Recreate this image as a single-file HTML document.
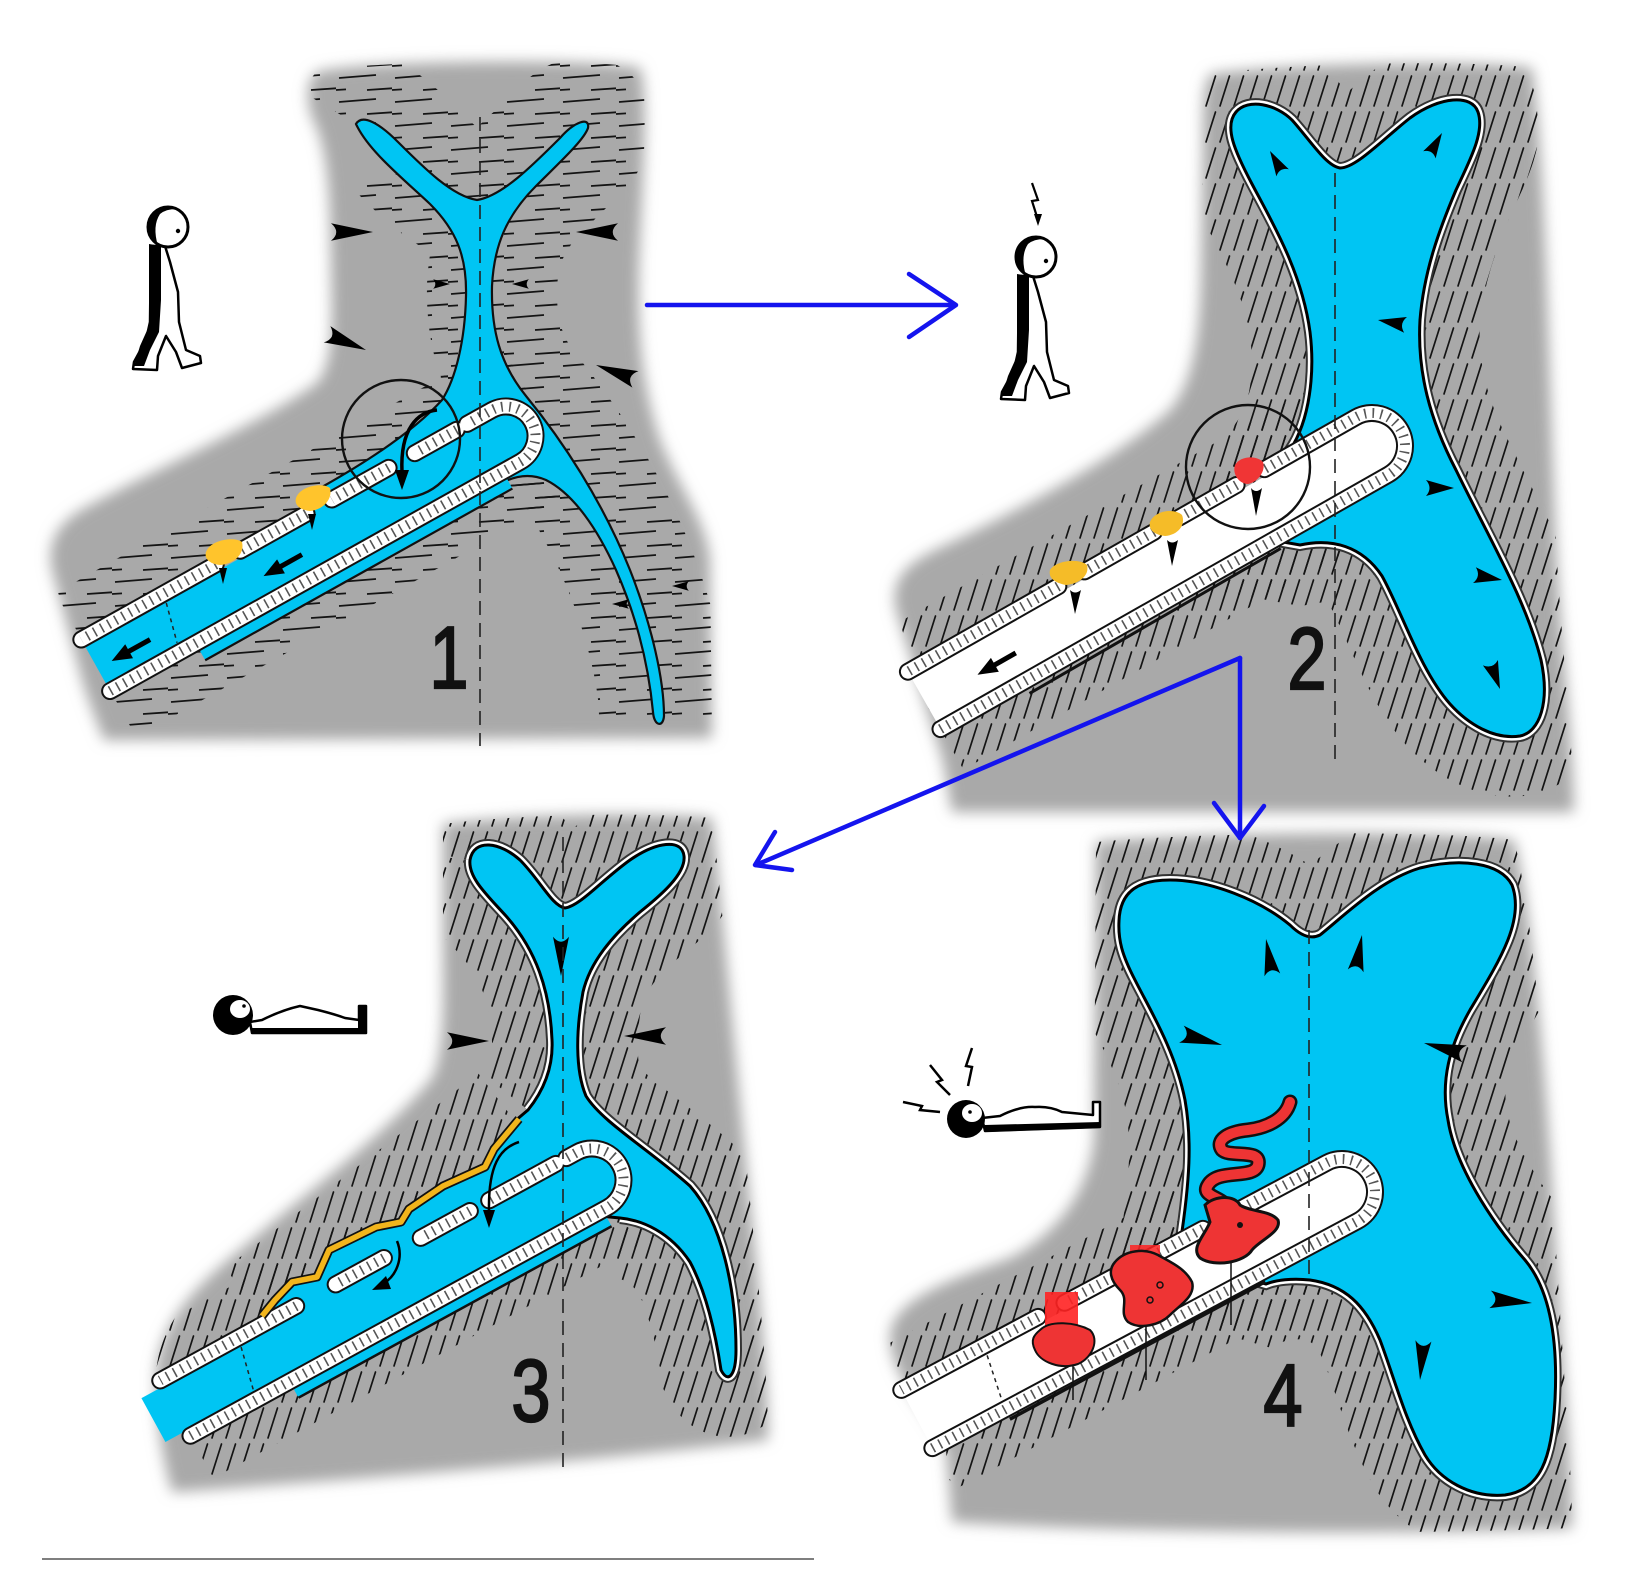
<!DOCTYPE html>
<html><head><meta charset="utf-8"><style>
html,body{margin:0;padding:0;background:#fff;}
svg{display:block;}
.wk{fill:none;stroke:#111;stroke-width:18;stroke-linecap:round;stroke-linejoin:round}
.ww{fill:none;stroke:#fff;stroke-width:14;stroke-linecap:round;stroke-linejoin:round}
.wh{fill:none;stroke:#555;stroke-width:10;stroke-dasharray:1.6 6.5}
.num{font-family:"Liberation Sans","DejaVu Sans",sans-serif;font-size:88px;fill:#111;stroke:#111;stroke-width:2.2;}
.dl{fill:none;stroke:#222;stroke-width:1.6;stroke-dasharray:14 8}
</style></head><body>
<svg width="1649" height="1592" viewBox="0 0 1649 1592" xmlns="http://www.w3.org/2000/svg">
<defs>
<filter id="bl" x="-8%" y="-8%" width="116%" height="116%"><feGaussianBlur stdDeviation="7"/></filter>
<pattern id="pd" width="14" height="36" patternUnits="userSpaceOnUse"><path d="M2,34 L11.5,4" stroke="#141414" stroke-width="1.7" stroke-linecap="round"/></pattern>
<pattern id="ph" width="56" height="24" patternUnits="userSpaceOnUse"><path d="M3,6 L40,3 M31,18 L56,16.3 M0,18 L10,17.4" stroke="#141414" stroke-width="1.8" fill="none"/></pattern>
<path id="w" d="M0,0 L-28,-8 Q-21,0 -28,8 Z" fill="#000"/>
<clipPath id="c1"><path d="M317,72 C360,60 600,58 640,68 C648,90 644,160 640,240 C636,320 640,380 660,440 C680,490 706,520 710,560 L712,738 L104,740 C96,720 88,700 82,680 L52,570 C46,540 60,520 90,505 C170,462 270,418 318,382 C334,360 332,320 331,270 C330,210 330,150 312,118 C306,100 306,80 317,72 Z"/></clipPath>
<clipPath id="c2"><path d="M1211,74 C1300,62 1480,60 1532,68 C1545,150 1548,350 1555,520 C1560,640 1572,720 1574,812 L952,812 C946,780 944,760 938,745 L896,610 C890,580 905,565 935,550 C1030,505 1120,455 1170,410 C1195,380 1200,330 1201,270 L1203,130 C1203,100 1204,82 1211,74 Z"/></clipPath>
<clipPath id="c3"><path d="M443,824 C520,814 650,812 712,818 C722,900 735,1060 752,1220 C760,1300 768,1380 768,1440 C620,1458 380,1478 172,1492 C160,1450 156,1410 156,1380 C156,1330 190,1290 240,1250 C310,1190 390,1130 432,1078 C446,1050 443,990 443,940 Z"/></clipPath>
<clipPath id="c4"><path d="M1096,842 C1200,832 1440,830 1514,840 C1530,900 1545,1050 1556,1250 C1564,1380 1572,1470 1572,1528 C1400,1536 1100,1532 952,1522 L946,1450 C928,1410 892,1380 890,1338 C890,1300 950,1280 1010,1258 C1060,1232 1088,1190 1094,1140 Z"/></clipPath>
<g id="walker">
 <path d="M151,246 L165,246 L170,262 L178,292 L179,322 L186,350 L200,356 L201,363 L182,368 L176,352 L166,336 L158,356 L157,370 L133,369 L134,362 L146,340 L150,322 Z" fill="#fff" stroke="#000" stroke-width="2.5" stroke-linejoin="round"/>
 <path d="M149,244 L161,246 L161,300 L159,332 L150,350 L144,366 L134,366 L140,346 L149,326 Z" fill="#000"/>
 <circle cx="168" cy="227" r="20" fill="#fff" stroke="#000" stroke-width="3"/>
 <path d="M168,207 A20,20 0 0 0 153,241 L158,246 Q152,226 160,214 Q166,209 176,209 Q172,207 168,207 Z" fill="#000"/>
 <circle cx="178" cy="231" r="2.2" fill="#000"/>
</g>
</defs>
<rect width="1649" height="1592" fill="#fff"/>

<!-- ================= PANEL 1 ================= -->
<path filter="url(#bl)" fill="#a9a9a9" d="M317,72 C360,60 600,58 640,68 C648,90 644,160 640,240 C636,320 640,380 660,440 C680,490 706,520 710,560 L712,738 L104,740 C96,720 88,700 82,680 L52,570 C46,540 60,520 90,505 C170,462 270,418 318,382 C334,360 332,320 331,270 C330,210 330,150 312,118 C306,100 306,80 317,72 Z"/>
<g clip-path="url(#c1)">
 <path fill="none" stroke="url(#ph)" stroke-width="130" stroke-linejoin="round" d="M356,124 C362,114 378,122 398,142 C424,168 452,196 477,200 C502,196 532,166 560,138 C574,122 590,116 588,128 C584,140 560,162 536,186 C506,216 494,246 492,286 C491,330 500,364 526,396 C562,440 602,500 630,570 C652,626 664,680 664,716"/>
 <path fill="none" stroke="url(#ph)" stroke-width="165" d="M96,665 L541,416"/>
</g>
<path fill="#00c5f3" stroke="#111" stroke-width="2.2" d="M356,124 C362,114 378,122 398,142 C424,168 452,196 477,200 C502,196 532,166 560,138 C574,122 590,116 588,128 C584,140 560,162 536,186 C506,216 494,246 492,286 C491,330 500,364 526,396 C562,440 602,500 630,570 C652,626 664,680 664,716 C663,728 654,726 653,712 C649,670 638,620 616,570 C598,530 574,494 546,480 C530,473 514,476 500,484 L470,495 L300,520 L322,487 C370,460 415,430 442,400 C456,378 465,340 466,296 C467,256 456,230 430,204 C400,176 368,150 356,124 Z"/>
<g transform="translate(506,436) rotate(-29.2)">
 <path d="M-470,-23 L0,-23 A23,23 0 0 1 0,23 L-470,23 Z" fill="#00c5f3"/>
 <rect x="-372" y="37" width="352" height="11" fill="#00c5f3"/>
 <path d="M-372,49 L-20,49" stroke="#111" stroke-width="2.2"/>
 <path class="wk" d="M-470,29.5 L0,29.5 A29.5,29.5 0 0 0 0,-29.5 L-28,-29.5 M-40,-29.5 L-88,-29.5 M-118,-29.5 L-183,-29.5 M-212,-29.5 L-288,-29.5 M-316,-29.5 L-470,-29.5"/>
 <path class="ww" d="M-470,29.5 L0,29.5 A29.5,29.5 0 0 0 0,-29.5 L-28,-29.5 M-40,-29.5 L-88,-29.5 M-118,-29.5 L-183,-29.5 M-212,-29.5 L-288,-29.5 M-316,-29.5 L-470,-29.5"/>
 <path class="wh" d="M-470,29.5 L0,29.5 A29.5,29.5 0 0 0 0,-29.5 L-28,-29.5 M-40,-29.5 L-88,-29.5 M-118,-29.5 L-183,-29.5 M-212,-29.5 L-288,-29.5 M-316,-29.5 L-470,-29.5"/>
 <path d="M-378,-20 L-388,20" stroke="#222" stroke-width="1.5" stroke-dasharray="4 4"/>
 <path d="M-236,4 L-262,4" stroke="#000" stroke-width="5"/><path d="M-260,-4 L-280,4 L-260,12 Z" fill="#000"/>
 <path d="M-410,4 L-436,4" stroke="#000" stroke-width="5"/><path d="M-434,-4 L-454,4 L-434,12 Z" fill="#000"/>
</g>
<path fill="#ffc42c" d="M296,498 C300,486 322,482 330,488 C333,500 322,510 310,511 C300,510 294,505 296,498 Z"/>
<path fill="#ffc42c" d="M206,552 C210,540 234,536 242,542 C245,554 234,564 220,565 C210,564 204,559 206,552 Z"/>
<path d="M308,514 L312,530 L316,514 Z M219,568 L223,584 L227,568 Z" fill="#000"/>
<circle cx="401" cy="439" r="59" fill="none" stroke="#111" stroke-width="2.4"/>
<path d="M437,410 C418,412 400,428 402,472" fill="none" stroke="#000" stroke-width="3.5"/>
<path d="M395,470 L402,490 L409,470 Z" fill="#000"/>
<use href="#w" transform="translate(373,232) scale(1.5,1.1)"/>
<use href="#w" transform="translate(576,232) rotate(180) scale(1.5,1.1)"/>
<use href="#w" transform="translate(366,350) rotate(22) scale(1.5,1.1)"/>
<use href="#w" transform="translate(596,365) rotate(200) scale(1.5,1.1)"/>
<use href="#w" transform="translate(450,284) scale(0.6)"/>
<use href="#w" transform="translate(512,284) rotate(180) scale(0.6)"/>
<use href="#w" transform="translate(672,586) rotate(180) scale(0.6)"/>
<use href="#w" transform="translate(612,604) rotate(180) scale(0.6)"/>
<path class="dl" d="M480,117 L480,746"/>
<text class="num" transform="translate(449,688) scale(0.8,1)" text-anchor="middle">1</text>
<use href="#walker"/>

<!-- ================= PANEL 2 ================= -->
<path filter="url(#bl)" fill="#a9a9a9" d="M1211,74 C1300,62 1480,60 1532,68 C1545,150 1548,350 1555,520 C1560,640 1572,720 1574,812 L952,812 C946,780 944,760 938,745 L896,610 C890,580 905,565 935,550 C1030,505 1120,455 1170,410 C1195,380 1200,330 1201,270 L1203,130 C1203,100 1204,82 1211,74 Z"/>
<g clip-path="url(#c2)">
 <path fill="none" stroke="url(#pd)" stroke-width="120" d="M1236,112 C1248,98 1276,104 1292,120 C1310,140 1326,166 1340,168 C1356,168 1382,140 1410,118 C1440,96 1472,94 1478,112 C1485,132 1470,160 1456,190 C1440,228 1424,270 1420,320 C1417,372 1430,420 1456,470 C1490,540 1526,600 1541,660 C1550,702 1540,732 1520,736 C1494,740 1468,724 1450,704 C1420,670 1402,612 1382,576 C1362,546 1332,538 1300,545 L1272,540 L1290,450 C1310,420 1315,372 1310,332 C1302,272 1272,222 1252,184 C1234,150 1224,126 1236,112 Z"/>
 <path fill="none" stroke="url(#pd)" stroke-width="160" d="M924,700 L1407,426"/>
</g>
<path fill="none" stroke="#333" stroke-width="12" d="M1236,112 C1248,98 1276,104 1292,120 C1310,140 1326,166 1340,168 C1356,168 1382,140 1410,118 C1440,96 1472,94 1478,112 C1485,132 1470,160 1456,190 C1440,228 1424,270 1420,320 C1417,372 1430,420 1456,470 C1490,540 1526,600 1541,660 C1550,702 1540,732 1520,736 C1494,740 1468,724 1450,704 C1420,670 1402,612 1382,576 C1362,546 1332,538 1300,545 L1272,540 L1290,450 C1310,420 1315,372 1310,332 C1302,272 1272,222 1252,184 C1234,150 1224,126 1236,112 Z"/>
<path fill="none" stroke="#fff" stroke-width="8" d="M1236,112 C1248,98 1276,104 1292,120 C1310,140 1326,166 1340,168 C1356,168 1382,140 1410,118 C1440,96 1472,94 1478,112 C1485,132 1470,160 1456,190 C1440,228 1424,270 1420,320 C1417,372 1430,420 1456,470 C1490,540 1526,600 1541,660 C1550,702 1540,732 1520,736 C1494,740 1468,724 1450,704 C1420,670 1402,612 1382,576 C1362,546 1332,538 1300,545 L1272,540 L1290,450 C1310,420 1315,372 1310,332 C1302,272 1272,222 1252,184 C1234,150 1224,126 1236,112 Z"/>
<path fill="#00c5f3" stroke="#000" stroke-width="3" d="M1236,112 C1248,98 1276,104 1292,120 C1310,140 1326,166 1340,168 C1356,168 1382,140 1410,118 C1440,96 1472,94 1478,112 C1485,132 1470,160 1456,190 C1440,228 1424,270 1420,320 C1417,372 1430,420 1456,470 C1490,540 1526,600 1541,660 C1550,702 1540,732 1520,736 C1494,740 1468,724 1450,704 C1420,670 1402,612 1382,576 C1362,546 1332,538 1300,545 L1272,540 L1290,450 C1310,420 1315,372 1310,332 C1302,272 1272,222 1252,184 C1234,150 1224,126 1236,112 Z"/>
<g transform="translate(1372,446) rotate(-29.6)">
 <path d="M-515,-26.5 L0,-26.5 A26.5,26.5 0 0 1 0,26.5 L-515,26.5 Z" fill="#fff"/>
 <path d="M-420,46 L-130,44" stroke="#111" stroke-width="3" fill="none"/>
 <path class="wk" d="M-515,33 L0,33 A33,33 0 0 0 0,-33 L-105,-33 M-137,-33 L-203,-33 M-232,-33 L-312,-33 M-342,-33 L-515,-33"/>
 <path class="ww" d="M-515,33 L0,33 A33,33 0 0 0 0,-33 L-105,-33 M-137,-33 L-203,-33 M-232,-33 L-312,-33 M-342,-33 L-515,-33"/>
 <path class="wh" d="M-515,33 L0,33 A33,33 0 0 0 0,-33 L-105,-33 M-137,-33 L-203,-33 M-232,-33 L-312,-33 M-342,-33 L-515,-33"/>
 <path d="M-412,4 L-438,4" stroke="#000" stroke-width="5"/><path d="M-436,-4 L-456,4 L-436,12 Z" fill="#000"/>
</g>
<path fill="#f03535" d="M1235,465 C1240,456 1256,455 1263,462 C1266,471 1258,482 1248,484 C1239,484 1232,474 1235,465 Z"/>
<path fill="#f5bc28" d="M1150,522 C1155,510 1175,508 1182,515 C1186,525 1178,535 1165,536 C1155,535 1148,530 1150,522 Z"/>
<path fill="#f5bc28" d="M1050,570 C1056,560 1080,558 1087,565 C1090,576 1078,584 1066,585 C1055,583 1048,578 1050,570 Z"/>
<path d="M1251,488 L1256,516 L1262,488 Q1256,494 1251,488 Z M1167,540 L1172,566 L1178,540 Q1172,545 1167,540 Z M1070,590 L1075,614 L1081,590 Q1075,595 1070,590 Z" fill="#000"/>
<circle cx="1248" cy="467" r="62" fill="none" stroke="#111" stroke-width="2.4"/>
<use href="#w" transform="translate(1270,151) rotate(-120) scale(0.9)"/>
<use href="#w" transform="translate(1442,133) rotate(-60) scale(0.9)"/>
<use href="#w" transform="translate(1378,320) rotate(190) scale(1)"/>
<use href="#w" transform="translate(1454,488) rotate(0) scale(1)"/>
<use href="#w" transform="translate(1502,580) rotate(10) scale(1)"/>
<use href="#w" transform="translate(1500,689) rotate(70) scale(1)"/>
<path class="dl" d="M1335,173 L1335,762"/>
<text class="num" transform="translate(1307,689) scale(0.8,1)" text-anchor="middle">2</text>
<use href="#walker" transform="translate(868,30)"/>
<path d="M1032,183 L1038,200 L1032,201 L1038,220" fill="none" stroke="#000" stroke-width="2.2"/>
<path d="M1034,214 L1038,226 L1042,214 Z" fill="#000"/>

<!-- ================= PANEL 3 ================= -->
<path filter="url(#bl)" fill="#a9a9a9" d="M443,824 C520,814 650,812 712,818 C722,900 735,1060 752,1220 C760,1300 768,1380 768,1440 C620,1458 380,1478 172,1492 C160,1450 156,1410 156,1380 C156,1330 190,1290 240,1250 C310,1190 390,1130 432,1078 C446,1050 443,990 443,940 Z"/>
<g clip-path="url(#c3)">
 <path fill="none" stroke="url(#pd)" stroke-width="120" d="M470,860 C474,838 500,842 520,860 C540,880 552,906 565,908 C580,906 602,880 630,860 C656,842 682,838 684,856 C686,874 660,896 640,912 C612,936 590,962 583,992 C576,1030 575,1070 586,1096 C602,1122 650,1150 690,1186 C722,1222 736,1290 736,1350 C736,1376 728,1384 721,1370 C715,1330 705,1290 690,1262 C670,1232 642,1220 620,1218 M528,1110 C548,1085 553,1060 552,1040 C550,990 536,950 506,916 C488,896 468,878 470,860 M515,1121 L262,1316"/>
 <path fill="none" stroke="url(#pd)" stroke-width="160" d="M175,1408 L627,1161"/>
</g>
<path fill="none" stroke="#333" stroke-width="12" d="M470,860 C474,838 500,842 520,860 C540,880 552,906 565,908 C580,906 602,880 630,860 C656,842 682,838 684,856 C686,874 660,896 640,912 C612,936 590,962 583,992 C576,1030 575,1070 586,1096 C602,1122 650,1150 690,1186 C722,1222 736,1290 736,1350 C736,1376 728,1384 721,1370 C715,1330 705,1290 690,1262 C670,1232 642,1220 620,1218 M528,1110 C548,1085 553,1060 552,1040 C550,990 536,950 506,916 C488,896 468,878 470,860"/>
<path fill="none" stroke="#fff" stroke-width="8" d="M470,860 C474,838 500,842 520,860 C540,880 552,906 565,908 C580,906 602,880 630,860 C656,842 682,838 684,856 C686,874 660,896 640,912 C612,936 590,962 583,992 C576,1030 575,1070 586,1096 C602,1122 650,1150 690,1186 C722,1222 736,1290 736,1350 C736,1376 728,1384 721,1370 C715,1330 705,1290 690,1262 C670,1232 642,1220 620,1218 M528,1110 C548,1085 553,1060 552,1040 C550,990 536,950 506,916 C488,896 468,878 470,860"/>
<path fill="#00c5f3" stroke="#000" stroke-width="3" d="M470,860 C474,838 500,842 520,860 C540,880 552,906 565,908 C580,906 602,880 630,860 C656,842 682,838 684,856 C686,874 660,896 640,912 C612,936 590,962 583,992 C576,1030 575,1070 586,1096 C602,1122 650,1150 690,1186 C722,1222 736,1290 736,1350 C736,1376 728,1384 721,1370 C715,1330 705,1290 690,1262 C670,1232 642,1220 620,1218 L600,1216 L300,1380 L262,1316 L275,1300 L292,1282 L317,1277 L329,1250 L376,1227 L401,1222 L409,1209 L443,1186 L485,1167 L494,1149 L515,1121 L528,1110 C548,1085 553,1060 552,1040 C550,990 536,950 506,916 C488,896 468,878 470,860 Z"/>
<g transform="translate(592,1180) rotate(-28.7)">
 <path d="M-500,-25 L0,-25 A25,25 0 0 1 0,25 L-500,25 Z" fill="#00c5f3"/>
 <rect x="-362" y="38" width="357" height="11" fill="#00c5f3"/>
 <path d="M-362,50 L-5,50" stroke="#111" stroke-width="2.5"/>
 <path class="wk" d="M-475,31.5 L0,31.5 A31.5,31.5 0 0 0 0,-31.5 L-12,-31.5 M-24,-31.5 L-100,-31.5 M-122,-31.5 L-178,-31.5 M-220,-31.5 L-275,-31.5 M-320,-31.5 L-475,-31.5"/>
 <path class="ww" d="M-475,31.5 L0,31.5 A31.5,31.5 0 0 0 0,-31.5 L-12,-31.5 M-24,-31.5 L-100,-31.5 M-122,-31.5 L-178,-31.5 M-220,-31.5 L-275,-31.5 M-320,-31.5 L-475,-31.5"/>
 <path class="wh" d="M-475,31.5 L0,31.5 A31.5,31.5 0 0 0 0,-31.5 L-12,-31.5 M-24,-31.5 L-100,-31.5 M-122,-31.5 L-178,-31.5 M-220,-31.5 L-275,-31.5 M-320,-31.5 L-475,-31.5"/>
 <path d="M-388,-22 L-398,22" stroke="#222" stroke-width="1.5" stroke-dasharray="4 4"/>
</g>
<path fill="none" stroke="#111" stroke-width="9" stroke-linejoin="round" d="M519,1119 L494,1149 L485,1167 L443,1186 L409,1209 L401,1222 L376,1227 L329,1250 L317,1277 L292,1282 L275,1300 L262,1316"/>
<path fill="none" stroke="#f2b51c" stroke-width="5.5" stroke-linejoin="round" d="M519,1119 L494,1149 L485,1167 L443,1186 L409,1209 L401,1222 L376,1227 L329,1250 L317,1277 L292,1282 L275,1300 L262,1316"/>
<path d="M519,1142 C500,1148 488,1165 489,1212" fill="none" stroke="#000" stroke-width="2.5"/>
<path d="M483,1210 L489,1228 L495,1210 Z" fill="#000"/>
<path d="M397,1241 C404,1258 396,1276 384,1283" fill="none" stroke="#000" stroke-width="2.5"/>
<path d="M386,1276 L372,1290 L391,1289 Z" fill="#000"/>
<use href="#w" transform="translate(561,976) rotate(90) scale(1.4,1)"/>
<use href="#w" transform="translate(489,1041) scale(1.5,1.1)"/>
<use href="#w" transform="translate(624,1036) rotate(180) scale(1.5,1.1)"/>
<path class="dl" d="M563,837 L563,1470"/>
<text class="num" transform="translate(531,1421) scale(0.8,1)" text-anchor="middle">3</text>
<g>
 <path d="M250,1022 L262,1020 Q282,1010 300,1006 L318,1010 Q334,1014 345,1018 L359,1020 L359,1006 L366,1006 L366,1033 L252,1033 Z" fill="#fff" stroke="#000" stroke-width="2.5" stroke-linejoin="round"/>
 <path d="M252,1028 L366,1028 L366,1034 L252,1034 Z M358,1006 L366,1006 L366,1034 L358,1034 Z" fill="#000"/>
 <circle cx="233" cy="1015" r="20" fill="#000"/>
 <ellipse cx="240" cy="1009" rx="10" ry="9" fill="#fff"/>
 <circle cx="244" cy="1006" r="1.8" fill="#000"/>
</g>

<!-- ================= PANEL 4 ================= -->
<path filter="url(#bl)" fill="#a9a9a9" d="M1096,842 C1200,832 1440,830 1514,840 C1530,900 1545,1050 1556,1250 C1564,1380 1572,1470 1572,1528 C1400,1536 1100,1532 952,1522 L946,1450 C928,1410 892,1380 890,1338 C890,1300 950,1280 1010,1258 C1060,1232 1088,1190 1094,1140 Z"/>
<g clip-path="url(#c4)">
 <path fill="none" stroke="url(#pd)" stroke-width="120" d="M1119,921 C1120,890 1140,880 1170,880 C1210,880 1260,900 1290,925 C1300,935 1310,940 1320,935 C1345,915 1380,880 1420,868 C1460,858 1500,862 1512,885 C1525,920 1500,960 1470,1010 C1450,1045 1440,1080 1448,1120 C1455,1165 1490,1220 1525,1260 C1550,1290 1558,1340 1555,1400 C1552,1460 1540,1490 1505,1495 C1470,1498 1440,1480 1425,1455 C1405,1420 1395,1380 1380,1340 C1365,1305 1345,1285 1310,1280 C1292,1278 1276,1280 1266,1284 L1190,1262 L1180,1245 C1190,1180 1192,1140 1185,1100 C1175,1050 1150,1010 1135,980 C1122,955 1118,940 1119,921 Z"/>
 <path fill="none" stroke="url(#pd)" stroke-width="160" d="M917,1419 L1377,1173"/>
</g>
<path fill="none" stroke="#333" stroke-width="12" d="M1119,921 C1120,890 1140,880 1170,880 C1210,880 1260,900 1290,925 C1300,935 1310,940 1320,935 C1345,915 1380,880 1420,868 C1460,858 1500,862 1512,885 C1525,920 1500,960 1470,1010 C1450,1045 1440,1080 1448,1120 C1455,1165 1490,1220 1525,1260 C1550,1290 1558,1340 1555,1400 C1552,1460 1540,1490 1505,1495 C1470,1498 1440,1480 1425,1455 C1405,1420 1395,1380 1380,1340 C1365,1305 1345,1285 1310,1280 C1292,1278 1276,1280 1266,1284 L1190,1262 L1180,1245 C1190,1180 1192,1140 1185,1100 C1175,1050 1150,1010 1135,980 C1122,955 1118,940 1119,921 Z"/>
<path fill="none" stroke="#fff" stroke-width="8" d="M1119,921 C1120,890 1140,880 1170,880 C1210,880 1260,900 1290,925 C1300,935 1310,940 1320,935 C1345,915 1380,880 1420,868 C1460,858 1500,862 1512,885 C1525,920 1500,960 1470,1010 C1450,1045 1440,1080 1448,1120 C1455,1165 1490,1220 1525,1260 C1550,1290 1558,1340 1555,1400 C1552,1460 1540,1490 1505,1495 C1470,1498 1440,1480 1425,1455 C1405,1420 1395,1380 1380,1340 C1365,1305 1345,1285 1310,1280 C1292,1278 1276,1280 1266,1284 L1190,1262 L1180,1245 C1190,1180 1192,1140 1185,1100 C1175,1050 1150,1010 1135,980 C1122,955 1118,940 1119,921 Z"/>
<path fill="#00c5f3" stroke="#000" stroke-width="3" d="M1119,921 C1120,890 1140,880 1170,880 C1210,880 1260,900 1290,925 C1300,935 1310,940 1320,935 C1345,915 1380,880 1420,868 C1460,858 1500,862 1512,885 C1525,920 1500,960 1470,1010 C1450,1045 1440,1080 1448,1120 C1455,1165 1490,1220 1525,1260 C1550,1290 1558,1340 1555,1400 C1552,1460 1540,1490 1505,1495 C1470,1498 1440,1480 1425,1455 C1405,1420 1395,1380 1380,1340 C1365,1305 1345,1285 1310,1280 C1292,1278 1276,1280 1266,1284 L1190,1262 L1180,1245 C1190,1180 1192,1140 1185,1100 C1175,1050 1150,1010 1135,980 C1122,955 1118,940 1119,921 Z"/>
<g transform="translate(1342,1192) rotate(-28.1)">
 <path d="M-482,-26.5 L0,-26.5 A26.5,26.5 0 0 1 0,26.5 L-482,26.5 Z" fill="#fff"/>
 <path d="M-400,44 L-110,43" stroke="#111" stroke-width="3.5" fill="none"/>
 <path class="wk" d="M-482,33 L0,33 A33,33 0 0 0 0,-33 L-110,-33 M-140,-33 L-203,-33 M-233,-33 L-297,-33 M-327,-33 L-482,-33"/>
 <path class="ww" d="M-482,33 L0,33 A33,33 0 0 0 0,-33 L-110,-33 M-140,-33 L-203,-33 M-233,-33 L-297,-33 M-327,-33 L-482,-33"/>
 <path class="wh" d="M-482,33 L0,33 A33,33 0 0 0 0,-33 L-110,-33 M-140,-33 L-203,-33 M-233,-33 L-297,-33 M-327,-33 L-482,-33"/>
 <path d="M-390,-23 L-398,23" stroke="#222" stroke-width="1.5" stroke-dasharray="4 4"/>
</g>
<!-- red -->
<path d="M1146,1300 L1146,1380 M1231,1255 L1231,1325 M1073,1340 L1073,1400" stroke="#111" stroke-width="1.5" fill="none"/>
<path fill="none" stroke="#111" stroke-width="15" stroke-linecap="round" stroke-linejoin="round" d="M1290,1102 C1285,1120 1265,1128 1248,1130 C1228,1132 1215,1140 1222,1150 C1230,1158 1262,1148 1258,1165 C1254,1180 1218,1168 1208,1185 C1200,1198 1226,1196 1230,1212"/>
<path fill="none" stroke="#ee3434" stroke-width="10" stroke-linecap="round" stroke-linejoin="round" d="M1290,1102 C1285,1120 1265,1128 1248,1130 C1228,1132 1215,1140 1222,1150 C1230,1158 1262,1148 1258,1165 C1254,1180 1218,1168 1208,1185 C1200,1198 1226,1196 1230,1212"/>
<path fill="#ee3434" stroke="#111" stroke-width="3" d="M1205,1205 C1215,1195 1235,1195 1240,1205 C1250,1212 1270,1210 1278,1220 C1282,1232 1260,1240 1252,1250 C1245,1262 1215,1268 1200,1258 C1190,1248 1205,1235 1210,1222 Z"/>
<rect x="1130" y="1245" width="30" height="30" fill="#f22" opacity="0.85"/>
<path fill="#ee3434" stroke="#111" stroke-width="2.5" d="M1115,1262 C1125,1250 1145,1248 1158,1255 C1170,1262 1185,1268 1192,1282 C1196,1296 1180,1305 1170,1315 C1160,1325 1140,1330 1128,1322 C1118,1312 1130,1300 1120,1290 C1110,1280 1108,1270 1115,1262 Z"/>
<rect x="1045" y="1292" width="33" height="38" fill="#f22" opacity="0.9"/>
<path fill="#ee3434" stroke="#111" stroke-width="2" d="M1040,1330 C1050,1320 1075,1322 1090,1330 C1100,1340 1092,1358 1078,1364 C1060,1370 1040,1362 1035,1350 C1030,1340 1034,1335 1040,1330 Z"/>
<circle cx="1240" cy="1225" r="3" fill="#111"/><circle cx="1160" cy="1285" r="3" fill="none" stroke="#111" stroke-width="1.5"/><circle cx="1150" cy="1300" r="3" fill="none" stroke="#111" stroke-width="1.5"/>
<use href="#w" transform="translate(1266,939) rotate(-100) scale(1.3,1)"/>
<use href="#w" transform="translate(1362,935) rotate(-80) scale(1.3,1)"/>
<use href="#w" transform="translate(1222,1045) rotate(15) scale(1.5,1.1)"/>
<use href="#w" transform="translate(1424,1043) rotate(195) scale(1.5,1.1)"/>
<use href="#w" transform="translate(1532,1303) rotate(5) scale(1.5,1.1)"/>
<use href="#w" transform="translate(1420,1380) rotate(95) scale(1.4,1)"/>
<path class="dl" d="M1309,930 L1309,1280"/>
<text class="num" transform="translate(1283,1426) scale(0.8,1)" text-anchor="middle">4</text>
<g>
 <path d="M982,1118 L1000,1116 Q1020,1106 1035,1107 Q1050,1106 1062,1112 L1093,1115 L1093,1102 L1100,1102 L1100,1127 L985,1131 Z" fill="#fff" stroke="#000" stroke-width="2.5" stroke-linejoin="round"/>
 <path d="M985,1125 L1100,1122 L1100,1128 L985,1132 Z" fill="#000"/>
 <circle cx="966" cy="1119" r="19" fill="#000"/>
 <ellipse cx="972" cy="1113" rx="10" ry="9" fill="#fff"/>
 <circle cx="970" cy="1112" r="1.8" fill="#000"/>
 <path d="M930,1065 L942,1080 L937,1082 L950,1095 M972,1048 L966,1066 L972,1067 L968,1086 M903,1102 L922,1106 L920,1110 L940,1112" fill="none" stroke="#000" stroke-width="2.5"/>
</g>

<!-- ================= BLUE ARROWS ================= -->
<g fill="none" stroke="#1414ee" stroke-width="4.5" stroke-linecap="round" stroke-linejoin="round">
 <path d="M647,305 L955,305"/>
 <path d="M909,274 L956,305 L909,337"/>
 <path d="M1240,658 L1240,838"/>
 <path d="M1214,803 L1240,838 L1264,806"/>
 <path d="M1240,658 L756,865"/>
 <path d="M775,832 L755,865 L792,870"/>
</g>

<path d="M42,1559 L814,1559" stroke="#333" stroke-width="1.3"/>
</svg>
</body></html>
